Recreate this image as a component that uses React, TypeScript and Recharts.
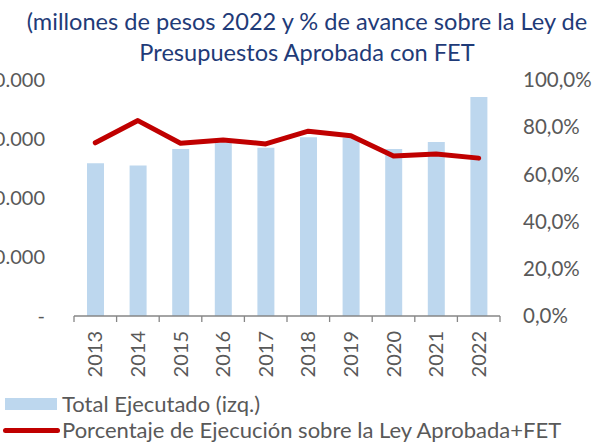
import { ComposedChart, Bar, Line, XAxis, YAxis } from "recharts";

const YEARS = ["2013", "2014", "2015", "2016", "2017", "2018", "2019", "2020", "2021", "2022"];
// Total ejecutado, millones de pesos 2022 (eje izq.)
const EJECUTADO = [25900, 25500, 28300, 29400, 28500, 30300, 30200, 28300, 29500, 37100];
// % de ejecución sobre Ley Aprobada + FET (eje der.)
const PORCENTAJE = [0.734, 0.828, 0.732, 0.746, 0.729, 0.783, 0.764, 0.678, 0.686, 0.669];
const LEFT_TICKS = [0, 10000, 20000, 30000, 40000];
const RIGHT_TICKS = [0, 0.2, 0.4, 0.6, 0.8, 1];

const BAR_COLOR = "#bdd7ee";
const LINE_COLOR = "#c00000";
const TEXT_COLOR = "#595959";
const AXIS_COLOR = "#868686";
const FONT = "Lato, 'Open Sans', sans-serif";

const data = YEARS.map((year, i) => ({
  year,
  total: EJECUTADO[i],
  pct: PORCENTAJE[i],
}));

// the left labels run off the page in the original, so the chart is shifted left
const SHIFT = 40;

function formatMiles(v: number): string {
  if (v === 0) return "-";
  return v.toString().replace(/\B(?=(\d{3})+(?!\d))/g, ".");
}

function formatPct(v: number): string {
  return (v * 100).toFixed(1).replace(".", ",") + "%";
}

function YearTick(props: any) {
  const { x, y, payload, index } = props;
  const half = payload.offset || 0;
  const last = index === YEARS.length - 1;
  return (
    <g>
      <line x1={x - half} y1={y} x2={x - half} y2={y + 6} stroke={AXIS_COLOR} strokeWidth={1.3} />
      {last && <line x1={x + half} y1={y} x2={x + half} y2={y + 6} stroke={AXIS_COLOR} strokeWidth={1.3} />}
      <text
        x={x}
        y={y + 15}
        dy="0.36em"
        textAnchor="end"
        transform={`rotate(-90, ${x}, ${y + 15})`}
        fill={TEXT_COLOR}
        fontSize={20}
        fontFamily={FONT}
      >
        {payload.value}
      </text>
    </g>
  );
}

export default function App() {
  return (
    <div style={{ position: "absolute", left: 0, top: 0, width: 614, height: 442, overflow: "hidden", background: "#fff", fontFamily: FONT }}>
      <div
        style={{
          position: "absolute",
          left: 0,
          top: 6,
          width: 614,
          textAlign: "center",
          color: "#1f3b78",
          fontSize: 23.6,
          lineHeight: "31px",
          whiteSpace: "nowrap",
        }}
      >
        (millones de pesos 2022 y % de avance sobre la Ley de
        <br />
        Presupuestos Aprobada con FET
      </div>

      <div style={{ position: "absolute", left: -SHIFT, top: 0 }}>
        <ComposedChart width={614 + SHIFT} height={442} data={data} margin={{ top: 80, right: 0, bottom: 0, left: 0 }}>
          <XAxis
            dataKey="year"
            height={126}
            tickLine={false}
            tickSize={0}
            tickMargin={0}
            axisLine={{ stroke: AXIS_COLOR, strokeWidth: 1.3 }}
            tick={<YearTick />}
            interval={0}
          />
          <YAxis
            yAxisId="left"
            orientation="left"
            width={74 + SHIFT}
            domain={[0, 40000]}
            ticks={LEFT_TICKS}
            tickFormatter={formatMiles}
            axisLine={false}
            tickLine={false}
            tickSize={0}
            tickMargin={29}
            tick={{ fill: TEXT_COLOR, fontSize: 20, fontFamily: FONT }}
          />
          <YAxis
            yAxisId="right"
            orientation="right"
            width={114}
            domain={[0, 1]}
            ticks={RIGHT_TICKS}
            tickFormatter={formatPct}
            axisLine={false}
            tickLine={false}
            tickSize={0}
            tickMargin={23}
            tick={{ fill: TEXT_COLOR, fontSize: 20.5, fontFamily: FONT, textAnchor: "start" }}
          />
          <Bar yAxisId="left" dataKey="total" fill={BAR_COLOR} barSize={17} isAnimationActive={false} />
          <Line
            yAxisId="right"
            dataKey="pct"
            type="linear"
            stroke={LINE_COLOR}
            strokeWidth={5}
            strokeLinecap="round"
            strokeLinejoin="round"
            dot={false}
            activeDot={false}
            isAnimationActive={false}
          />
        </ComposedChart>
      </div>

      <div style={{ position: "absolute", left: 0, top: 391, color: TEXT_COLOR, fontSize: 22, lineHeight: "26px", whiteSpace: "nowrap" }}>
        <div style={{ display: "flex", alignItems: "center" }}>
          <span style={{ display: "inline-block", marginLeft: 5, width: 52, height: 12, background: BAR_COLOR, marginRight: 5 }} />
          <span>Total Ejecutado (izq.)</span>
        </div>
        <div style={{ display: "flex", alignItems: "center" }}>
          <span style={{ display: "inline-block", marginLeft: 3, width: 57, height: 5, borderRadius: 3, background: LINE_COLOR, marginRight: 2 }} />
          <span>Porcentaje de Ejecución sobre la Ley Aprobada+FET</span>
        </div>
      </div>
    </div>
  );
}
